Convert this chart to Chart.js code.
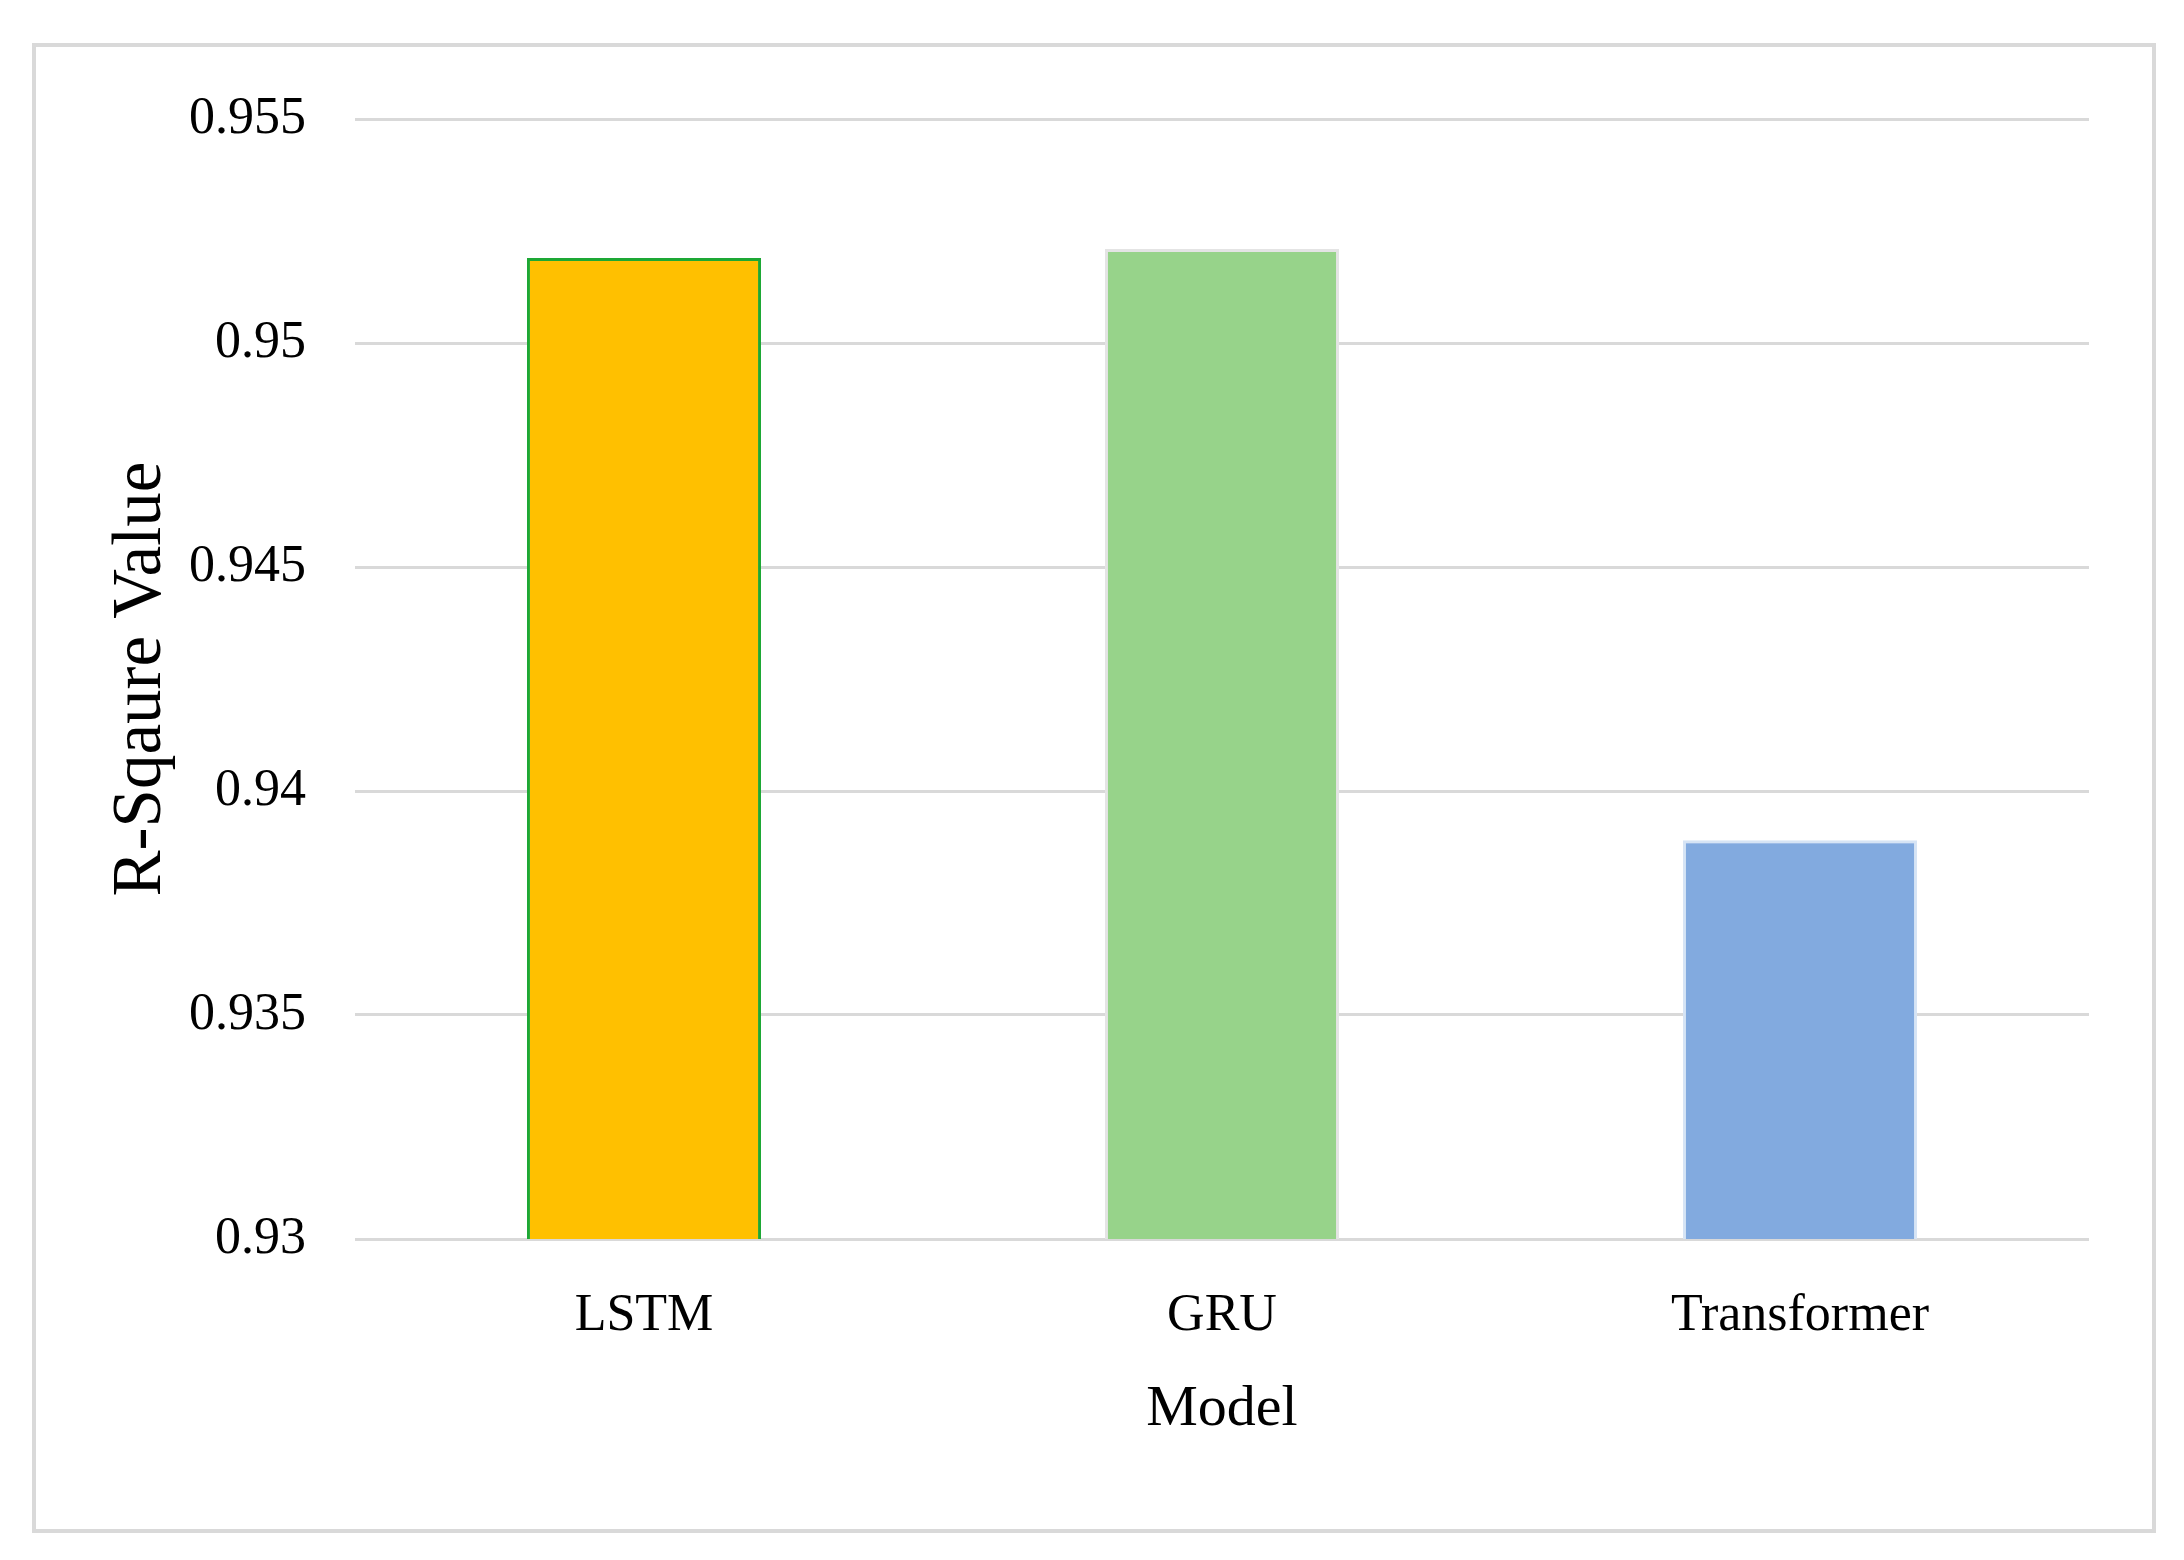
<!DOCTYPE html>
<html lang="en">
<head>
    <meta charset="UTF-8">
    <title>R-Square Value by Model</title>
    <script src="https://cdn.jsdelivr.net/npm/chart.js"></script>
    <style>
        html, body { margin: 0; padding: 0; background: #ffffff; }
        #wrap { width: 2184px; height: 1560px; }
    </style>
</head>
<body>
    <div id="wrap"><canvas id="myChart" width="2184" height="1560"></canvas></div>

    <script>
        // Data
        var models = ['LSTM', 'GRU', 'Transformer'];
        var rSquare = [0.9519, 0.9521, 0.9389];
        var yTicks = ['0.93', '0.935', '0.94', '0.945', '0.95', '0.955'];

        var fillColors = ['#FFC000', '#97D38A', '#82AADF'];
        var edgeColors = ['#1DA835', '#E4E4E4', '#D6E4F5'];

        // Grey frame around the whole figure
        var framePlugin = {
            id: 'frame',
            beforeDraw: function (chart) {
                var ctx = chart.ctx;
                ctx.save();
                ctx.fillStyle = '#ffffff';
                ctx.fillRect(0, 0, chart.width, chart.height);
                ctx.strokeStyle = '#D9D9D9';
                ctx.lineWidth = 4;
                ctx.strokeRect(34, 45, 2120, 1486);
                ctx.restore();
            }
        };

        var ctx = document.getElementById('myChart').getContext('2d');
        var myChart = new Chart(ctx, {
            type: 'bar',
            data: {
                labels: models,
                datasets: [{
                    data: rSquare,
                    backgroundColor: fillColors,
                    borderColor: edgeColors,
                    borderWidth: 3,
                    barPercentage: 0.405,
                    categoryPercentage: 1.0
                }]
            },
            options: {
                responsive: false,
                animation: false,
                layout: {
                    padding: { top: 119, right: 95, bottom: 111, left: 96 }
                },
                plugins: {
                    legend: { display: false },
                    tooltip: { enabled: false }
                },
                scales: {
                    x: {
                        grid: { display: false },
                        border: { display: false },
                        ticks: {
                            color: '#000000',
                            padding: 38,
                            font: { family: 'Liberation Serif', size: 52 }
                        },
                        title: {
                            display: true,
                            text: 'Model',
                            color: '#000000',
                            padding: { top: -10 },
                            font: { family: 'Liberation Serif', size: 58 }
                        }
                    },
                    y: {
                        min: 0.93,
                        max: 0.955,
                        border: { display: false },
                        grid: {
                            color: '#D9D9D9',
                            lineWidth: 3,
                            drawTicks: false
                        },
                        afterFit: function (scale) {
                            scale.width = 259;
                        },
                        ticks: {
                            stepSize: 0.005,
                            color: '#000000',
                            padding: 49,
                            font: { family: 'Liberation Serif', size: 52 },
                            callback: function (value, index) {
                                return yTicks[index];
                            }
                        },
                        title: {
                            display: true,
                            text: 'R-Sqaure Value',
                            color: '#000000',
                            padding: { top: 4, bottom: 0 },
                            font: { family: 'Liberation Serif', size: 69 }
                        }
                    }
                }
            },
            plugins: [framePlugin]
        });
    </script>
</body>
</html>
